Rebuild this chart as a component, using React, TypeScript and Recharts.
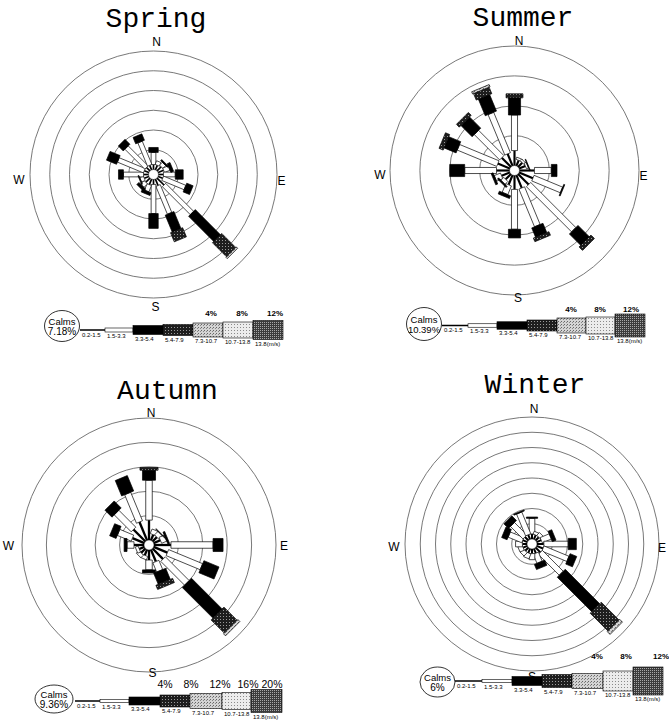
import React from "react";
import {
  RadialBarChart,
  RadialBar,
  PolarGrid,
  PolarAngleAxis,
  PolarRadiusAxis,
} from "recharts";

// 16 compass sectors, clockwise from north
const DIRS = ["N", "NNE", "NE", "ENE", "E", "ESE", "SE", "SSE", "S", "SSW", "SW", "WSW", "W", "WNW", "NW", "NNW"];
const CLASS_KEYS = ["c1", "c2", "c3", "c4", "c5", "c6", "c7"];
const SPEED_LABELS = ["0.2-1.5", "1.5-3.3", "3.3-5.4", "5.4-7.9", "7.3-10.7", "10.7-13.8", "13.8(m/s)"];

// frequency (%) per speed class, one row per direction
const SPRING = [
  [0.5, 1.23, 0.5],
  [0.5, 0.4],
  [0.6, 0.4, 0.15],
  [0.6, 0.6, 0.3],
  [0.5, 1.2, 0.8],
  [0.5, 2.44, 0.7],
  [1.0, 4.0, 3.6, 2.0, 0.2],
  [0.7, 3.05, 1.85, 1.0],
  [0.5, 2.95, 1.5],
  [0.6, 0.7, 0.3],
  [0.6, 0.5, 0.3],
  [0.5, 0.4, 0.1],
  [0.5, 2.04, 0.5],
  [0.5, 2.85, 1.1],
  [0.5, 2.85, 0.7],
  [0.5, 2.55, 0.7],
];

const SUMMER = [
  [1.0, 2.38, 1.15, 0.27],
  [0.4, 0.15],
  [0.4, 0.15],
  [0.45, 0.15, 0.05],
  [1.0, 1.13, 0.38],
  [1.0, 2.07, 0.07],
  [1.0, 4.27, 1.07, 0.33],
  [0.93, 2.73, 0.67, 0.26],
  [0.93, 2.67, 0.58],
  [0.7, 0.63, 0.2],
  [0.5, 0.27, 0.1],
  [0.6, 0.45, 0.14],
  [0.87, 2.13, 1.0],
  [0.87, 2.86, 0.87, 0.3],
  [0.87, 2.4, 1.06, 0.27],
  [0.87, 2.93, 1.2, 0.47, 0.16],
];

const AUTUMN = [
  [1.63, 3.27, 0.82, 0.22],
  [0.5, 0.4],
  [0.5, 0.4, 0.05],
  [0.6, 0.45, 0.15],
  [1.39, 3.45, 0.82],
  [1.22, 3.02, 1.34],
  [1.22, 2.76, 3.55, 1.53, 0.23],
  [1.06, 0.82, 0.98, 0.37],
  [0.82, 0.81, 0.25],
  [0.5, 0.3],
  [0.5, 0.3],
  [0.45, 0.25],
  [0.82, 0.57, 0.24],
  [1.06, 1.23, 0.57],
  [1.39, 1.96, 0.81],
  [1.63, 2.53, 1.37],
];

const WINTER = [
  [0.65, 2.06, 0.17],
  [0.6, 0.4],
  [0.6, 0.5],
  [0.65, 1.29, 0.51],
  [0.9, 3.19, 1.07],
  [0.9, 3.54, 0.95],
  [0.9, 3.87, 6.39, 3.29, 0.52],
  [0.65, 1.29, 0.73],
  [0.6, 0.8],
  [0.6, 0.7],
  [0.6, 0.6],
  [0.6, 0.6],
  [0.6, 0.9],
  [0.65, 1.93, 0.77],
  [0.65, 2.32, 0.86],
  [0.65, 3.09, 0.13],
];

const CALMS = ["7.18%", "10.39%", "9.36%", "6%"];
const RING_TICKS_SPRING = [0, 2, 4, 6, 8, 10, 12];
const RING_TICKS_SUMMER = [0, 2, 4, 6, 8];
const RING_TICKS_AUTUMN = [0, 2, 4, 6, 8, 10];
const RING_TICKS_WINTER = [0, 2, 4, 6, 8, 10, 12, 14, 16];
const PCT_SHORT = ["4%", "8%", "12%"];
const PCT_LONG = ["4%", "8%", "12%", "16%", "20%"];

// styles per speed class
const FILLS = ["#000", "#fff", "#000", "url(#stDark)", "url(#stLight)", "url(#stLighter)", "url(#stMid)"];
const WIDTHS = [1.6, 4.5, 9, 12.5, 14, 15, 16];

const PANELS = [
  {
    name: "Spring", data: SPRING, calm: CALMS[0], ticks: RING_TICKS_SPRING,
    cx: 153, cy: 174, r: 123.5, wf: 1.05, title: [156, 26.5],
    compass: [[156.5, 42], [281.5, 181], [155.5, 307], [19, 180]],
    legend: {
      ell: [62, 326, 17.5, 15.5], edges: [80, 105, 133, 163, 193, 223, 253, 283],
      heights: [1.5, 4, 9, 11, 14, 16, 19], midY: 330,
      pct: PCT_SHORT, pctX: [211, 242, 275], pctY: 315.5, pctSize: 8, pctBold: true,
    },
  },
  {
    name: "Summer", data: SUMMER, calm: CALMS[1], ticks: RING_TICKS_SUMMER,
    cx: 514, cy: 170.5, r: 124.5, wf: 1.35, title: [523, 26],
    compass: [[519, 40.5], [643.5, 176], [518, 297.5], [380, 175]],
    legend: {
      ell: [424, 324, 17.5, 16.5], edges: [442, 468, 497, 527, 557, 586, 615, 645],
      heights: [1.5, 3.5, 7.5, 11, 15, 17, 23], midY: 325.5,
      pct: PCT_SHORT, pctX: [571, 600, 631], pctY: 312, pctSize: 8, pctBold: true,
    },
  },
  {
    name: "Autumn", data: AUTUMN, calm: CALMS[2], ticks: RING_TICKS_AUTUMN,
    cx: 149, cy: 545, r: 127, wf: 1.45, title: [167.5, 399],
    compass: [[151, 413], [284, 546], [152.5, 673], [8.5, 546]],
    legend: {
      ell: [54, 699, 19, 14], edges: [75, 100, 129, 160, 190, 222, 251, 282],
      heights: [1.5, 3, 8, 12, 15, 17, 23], midY: 701,
      pct: PCT_LONG, pctX: [165, 191, 220, 248, 272], pctY: 688, pctSize: 10.5, pctBold: false,
    },
  },
  {
    name: "Winter", data: WINTER, calm: CALMS[3], ticks: RING_TICKS_WINTER,
    cx: 532, cy: 544, r: 127, wf: 1.25, title: [535, 393],
    compass: [[534, 408.5], [662, 548], [532, 677], [394, 547]],
    legend: {
      ell: [437.5, 682, 17.5, 15], edges: [455, 482, 512, 542, 572, 603, 633, 663],
      heights: [1.5, 3, 9, 13, 15, 20, 28], midY: 681,
      pct: PCT_SHORT, pctX: [597, 626, 661], pctY: 659, pctSize: 8, pctBold: true,
    },
  },
];

function barShape(cls: number, wf: number) {
  return (p: any) => {
    const { cx, cy, innerRadius: ri, outerRadius: ro, startAngle, endAngle } = p;
    if (!(ro - ri > 0.05)) return <g />;
    const a = (-(startAngle + endAngle) / 2) * (Math.PI / 180);
    const ux = Math.cos(a);
    const uy = Math.sin(a);
    const hw = (WIDTHS[cls] * wf) / 2;
    const nx = -uy * hw;
    const ny = ux * hw;
    const pts = [
      [cx + ux * ri + nx, cy + uy * ri + ny],
      [cx + ux * ro + nx, cy + uy * ro + ny],
      [cx + ux * ro - nx, cy + uy * ro - ny],
      [cx + ux * ri - nx, cy + uy * ri - ny],
    ]
      .map((q) => q.join(","))
      .join(" ");
    return (
      <polygon
        points={pts}
        fill={FILLS[cls]}
        stroke={cls === 0 ? "none" : "#000"}
        strokeWidth={0.7}
      />
    );
  };
}

function Rose({ p }: { p: any }) {
  const box = p.r + 6;
  const rows = DIRS.map((d, i) => {
    const row: any = { dir: d };
    CLASS_KEYS.forEach((k, j) => (row[k] = p.data[i][j] ?? 0));
    return row;
  });
  return (
    <div style={{ position: "absolute", left: p.cx - box, top: p.cy - box }}>
      <RadialBarChart
        width={box * 2}
        height={box * 2}
        data={rows}
        layout="centric"
        cx={box}
        cy={box}
        innerRadius={5}
        outerRadius={p.r}
        startAngle={78.75}
        endAngle={-281.25}
        margin={{ top: 0, right: 0, bottom: 0, left: 0 }}
      >
        <PolarGrid gridType="circle" radialLines={false} stroke="#555" strokeWidth={0.8} />
        <PolarAngleAxis type="category" dataKey="dir" tick={false} axisLine={false} />
        <PolarRadiusAxis
          type="number"
          domain={[0, p.ticks[p.ticks.length - 1]]}
          ticks={p.ticks}
          tick={false}
          axisLine={false}
        />
        {CLASS_KEYS.map((k, j) => (
          <RadialBar
            key={k}
            dataKey={k}
            stackId="w"
            isAnimationActive={false}
            shape={barShape(j, p.wf)}
          />
        ))}
      </RadialBarChart>
    </div>
  );
}

function SpeedLegend({ lg, calm }: { lg: any; calm: string }) {
  const [ex, ey, rx, ry] = lg.ell;
  return (
    <g fontFamily="Liberation Sans, Arial, sans-serif">
      <ellipse cx={ex} cy={ey} rx={rx} ry={ry} fill="#fff" stroke="#000" strokeWidth={0.8} />
      <text x={ex} y={ey - 1.5} fontSize={9.5} textAnchor="middle">Calms</text>
      <text x={ex} y={ey + 9} fontSize={calm.length > 5 ? 9.5 : 10} textAnchor="middle">{calm}</text>
      {SPEED_LABELS.map((s, i) => {
        const x0 = lg.edges[i];
        const x1 = lg.edges[i + 1];
        const h = lg.heights[i];
        return (
          <g key={s}>
            <rect
              x={x0}
              y={lg.midY - h / 2}
              width={x1 - x0}
              height={h}
              fill={FILLS[i]}
              stroke={i === 0 ? "none" : "#000"}
              strokeWidth={0.6}
            />
            <text x={x0 + 2} y={lg.midY + h / 2 + 6} fontSize={6}>{s}</text>
          </g>
        );
      })}
      {lg.pct.map((t: string, i: number) => (
        <text
          key={t}
          x={lg.pctX[i]}
          y={lg.pctY}
          fontSize={lg.pctSize}
          fontWeight={lg.pctBold ? "bold" : "normal"}
          textAnchor="middle"
        >
          {t}
        </text>
      ))}
    </g>
  );
}

export default function App() {
  return (
    <div
      style={{
        position: "absolute",
        left: 0,
        top: 0,
        width: 669,
        height: 724,
        background: "#fff",
        overflow: "hidden",
      }}
    >
      <svg width={0} height={0} style={{ position: "absolute" }}>
        <defs>
          <pattern id="stDark" width={3} height={3} patternUnits="userSpaceOnUse">
            <rect width={3} height={3} fill="#1e1e1e" />
            <rect width={1} height={1} fill="#9a9a9a" />
          </pattern>
          <pattern id="stLight" width={3} height={3} patternUnits="userSpaceOnUse">
            <rect width={3} height={3} fill="#d4d4d4" />
            <rect width={1} height={1} fill="#666" />
            <rect x={2} y={1} width={1} height={1} fill="#888" />
          </pattern>
          <pattern id="stLighter" width={3} height={3} patternUnits="userSpaceOnUse">
            <rect width={3} height={3} fill="#ececec" />
            <rect width={1} height={1} fill="#8a8a8a" />
          </pattern>
          <pattern id="stMid" width={2} height={2} patternUnits="userSpaceOnUse">
            <rect width={2} height={2} fill="#3c3c3c" />
            <rect width={1} height={1} fill="#a8a8a8" />
          </pattern>
        </defs>
      </svg>
      {PANELS.map((p) => (
        <Rose key={p.name} p={p} />
      ))}
      <svg
        width={669}
        height={724}
        style={{ position: "absolute", left: 0, top: 0, pointerEvents: "none" }}
      >
        {PANELS.map((p) => (
          <g key={p.name}>
            <text
              x={p.title[0]}
              y={p.title[1]}
              fontFamily="Liberation Mono, Courier New, monospace"
              fontSize={28}
              textAnchor="middle"
            >
              {p.name}
            </text>
            {["N", "E", "S", "W"].map((c, i) => (
              <text
                key={c}
                x={p.compass[i][0]}
                y={p.compass[i][1]}
                fontFamily="Liberation Sans, Arial, sans-serif"
                fontSize={12}
                textAnchor="middle"
                dominantBaseline="central"
              >
                {c}
              </text>
            ))}
            <SpeedLegend lg={p.legend} calm={p.calm} />
          </g>
        ))}
      </svg>
    </div>
  );
}
